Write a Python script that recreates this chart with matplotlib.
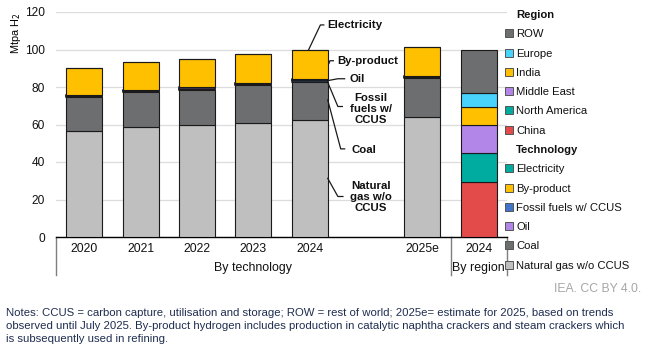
import matplotlib
matplotlib.use("Agg")
import matplotlib.pyplot as plt
from matplotlib.patches import Patch
from matplotlib.lines import Line2D
import numpy as np

plt.rcParams['font.family'] = ['Liberation Sans', 'DejaVu Sans']

# ---- data ----
tech_years = ["2020", "2021", "2022", "2023", "2024", "2025e"]
natural_gas = [56.5, 58.7, 59.6, 61.0, 62.2, 63.8]
coal = [18.0, 18.5, 19.0, 19.9, 20.7, 20.9]
fossil_ccus = [0.6, 0.6, 0.6, 0.6, 0.6, 0.6]
oil = [0.6, 0.6, 0.6, 0.6, 0.6, 0.6]
by_product = [14.3, 14.8, 15.1, 15.3, 15.6, 15.6]
electricity = [0.1, 0.1, 0.1, 0.1, 0.1, 0.1]

region_year = "2024"
region_names = ["China", "North America", "Middle East", "India", "Europe", "ROW"]
region_values = [29.2, 15.8, 14.6, 9.5, 7.5, 23.1]

group_labels = ["By technology", "By region"]

# ---- colours ----
C_NG = "#bfbfbf"
C_COAL = "#6d6e70"
C_CCUS = "#3f74c9"
C_OIL = "#b285e8"
C_BYP = "#ffc000"
C_ELEC = "#00ab9f"
region_colors = {"China": "#e34a4a", "North America": "#00ab9f", "Middle East": "#b285e8",
                 "India": "#ffc000", "Europe": "#48d3ff", "ROW": "#6d6e70"}

fig = plt.figure(figsize=(6.47, 3.5), dpi=100)
ax = fig.add_axes([56/647, 1-237/350, (507-56)/647, (237-12)/350])

x_tech = np.array([0, 1, 2, 3, 4, 6])
x_reg = 7
w = 0.64
ekw = dict(edgecolor="#1a1a1a", linewidth=0.8, zorder=3)

bottom = np.zeros(len(x_tech))
for vals, col, lw in [(natural_gas, C_NG, 0.8), (coal, C_COAL, 0.8), (fossil_ccus, C_CCUS, 1.1),
                      (oil, C_OIL, 1.1), (by_product, C_BYP, 0.8), (electricity, C_ELEC, 0.8)]:
    v = np.array(vals)
    ax.bar(x_tech, v, w, bottom=bottom, color=col, edgecolor="#1a1a1a", linewidth=lw, zorder=3)
    bottom += v

b = 0.0
for name, v in zip(region_names, region_values):
    ax.bar(x_reg, v, w, bottom=b, color=region_colors[name], **ekw)
    b += v

ax.set_xlim(-0.5, 7.5)
ax.set_ylim(0, 120)
ax.set_yticks(np.arange(0, 121, 20))
ax.yaxis.grid(True, color="#dcdcdc", linewidth=0.9, zorder=0)
ax.set_axisbelow(True)
for s in ["top", "right", "left"]:
    ax.spines[s].set_visible(False)
ax.spines["bottom"].set_color("black")
ax.spines["bottom"].set_linewidth(1.0)
ax.tick_params(axis="y", length=0, labelsize=8.6, pad=8, colors="#111111")
ax.set_xticks(list(x_tech) + [x_reg])
ax.set_xticklabels(tech_years + [region_year])
ax.tick_params(axis="x", length=0, labelsize=8.8, pad=4.5, colors="#111111")

# category separators and group labels
trans = ax.get_xaxis_transform()
for xs in [-0.5, 6.5, 7.5]:
    ax.plot([xs, xs], [0, -0.17], transform=trans, color="#7f7f7f", lw=1.0, clip_on=False)
ax.text(3.0, -0.138, group_labels[0], transform=trans, ha="center", va="center", fontsize=8.9, color="#111111")
ax.text(7.0, -0.138, group_labels[1], transform=trans, ha="center", va="center", fontsize=8.9, color="#111111")

ax.text(-0.089, 0.905, "Mtpa H$_2$", transform=ax.transAxes, rotation=90, ha="center", va="center", fontsize=7.8)

# ---- annotations for the 2024 technology bar ----
i = 4
tot = natural_gas[i] + coal[i] + fossil_ccus[i] + oil[i] + by_product[i] + electricity[i]
bar_r = x_tech[i] + w / 2
lkw = dict(color="#1a1a1a", lw=0.9, clip_on=False, zorder=4)
tkw = dict(fontsize=8.2, fontweight="bold", color="#111111", va="center")

ax.plot([x_tech[i] - 0.02, 4.19, 4.25], [tot, 113.1, 113.1], **lkw)
ax.text(4.31, 112.8, "Electricity", ha="left", **tkw)

ax.plot([bar_r + 0.02, bar_r + 0.04, 4.42], [92.5, 94.0, 94.0], **lkw)
ax.text(4.49, 93.9, "By-product", ha="left", **tkw)

ax.plot([bar_r, 4.5, 4.62], [83.4, 84.4, 84.4], **lkw)
ax.text(4.7, 84.3, "Oil", ha="left", **tkw)

ax.plot([bar_r, 4.5, 4.58], [82.5, 69.6, 69.6], **lkw)
ax.text(5.08, 68.4, "Fossil\nfuels w/\nCCUS", ha="center", linespacing=1.15, **tkw)

ax.plot([bar_r, 4.55, 4.62], [73.1, 47.0, 47.0], **lkw)
ax.text(4.96, 46.6, "Coal", ha="center", **tkw)

ax.plot([bar_r, 4.5, 4.59], [31.3, 21.6, 21.6], **lkw)
ax.text(5.09, 21.3, "Natural\ngas w/o\nCCUS", ha="center", linespacing=1.15, **tkw)

# ---- legend ----
blank = Patch(facecolor="none", edgecolor="none")
sq = lambda c: Line2D([], [], marker="s", linestyle="none", markersize=5.5,
                      markerfacecolor=c, markeredgecolor="#555555", markeredgewidth=0.7)
handles = [blank] + [sq(region_colors[n]) for n in region_names[::-1]] + [blank] + \
          [sq(c) for c in [C_ELEC, C_BYP, C_CCUS, C_OIL, C_COAL, C_NG]]
labels = ["Region"] + region_names[::-1] + ["Technology"] + \
         ["Electricity", "By-product", "Fossil fuels w/ CCUS", "Oil", "Coal", "Natural gas w/o CCUS"]
leg = fig.legend(handles, labels, loc="upper left", bbox_to_anchor=(505/647, 1-10/350),
                 frameon=False, fontsize=8.15, handlelength=0.75, handletextpad=0.25,
                 labelspacing=0.82, borderaxespad=0, borderpad=0)
for t in leg.get_texts():
    t.set_color("#111111")
    if t.get_text() in ("Region", "Technology"):
        t.set_fontweight("bold")

# ---- footer ----
fig.text(641/647, 1-289/350, "IEA. CC BY 4.0.", ha="right", va="center", fontsize=8.8, color="#a6a6a6")
notes = ("Notes: CCUS = carbon capture, utilisation and storage; ROW = rest of world; 2025e= estimate for 2025, based on trends\n"
         "observed until July 2025. By-product hydrogen includes production in catalytic naphtha crackers and steam crackers which\n"
         "is subsequently used in refining.")
fig.text(6/647, 1-308/350, notes, ha="left", va="top", fontsize=8.2, color="#1f2d50", linespacing=1.35)

fig.savefig("out.png", dpi=100)
